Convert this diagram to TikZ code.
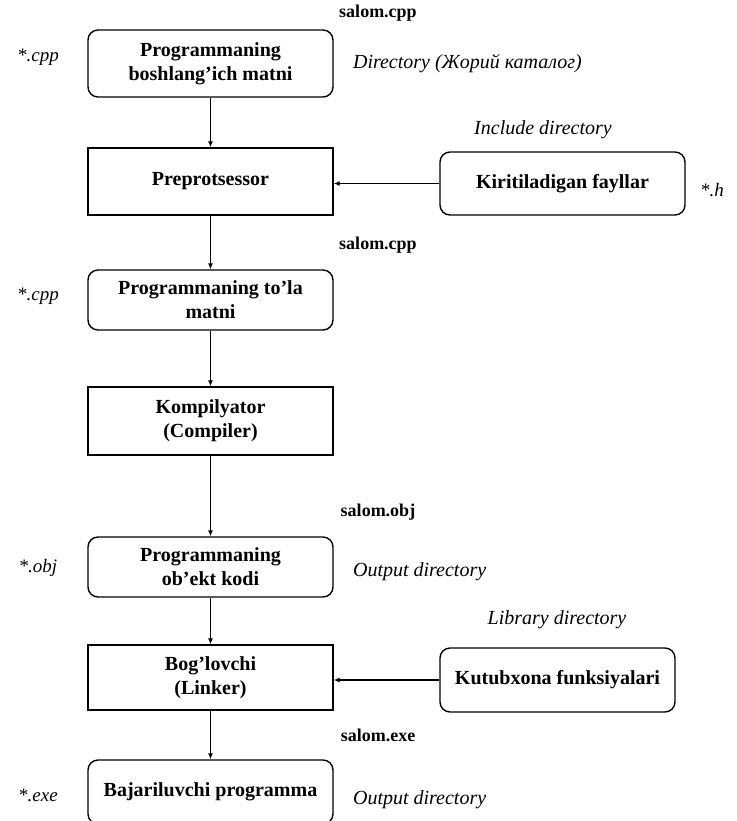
\documentclass[tikz,border=0pt]{standalone}
\usepackage{fontspec}
\setmainfont{Liberation Serif}
\usepackage{tikz}
\usetikzlibrary{positioning}
\usetikzlibrary{arrows.meta}
\usepackage{xcolor}

\tikzset{
	block/.style={draw=black, line width=0.7pt, minimum width=122.5pt, align=center, inner sep=2pt, font=\fontsize{10}{12}\selectfont\bfseries},
	roundblock/.style={block, rounded corners=5pt},
	fname/.style={font=\fontsize{9}{11}\selectfont\bfseries},
	dirlabel/.style={font=\fontsize{10}{12}\selectfont\itshape},
	extlabel/.style={font=\fontsize{9.5}{11}\selectfont\itshape},
	link/.style={draw=black, line width=0.7pt, -{Latex[length=3pt,width=2.5pt]}}
}

\begin{document}
\begin{tikzpicture}[x=0.5pt, y=-0.5pt]
	\useasboundingbox (0, 0) rectangle (737, 821);
	\node[roundblock, minimum height=33.5pt] (source) at (210.5, 63.5) {Programmaning\\boshlang'ich matni};
	\node[block, minimum height=33.5pt] (prep) at (210.5, 181.5) {Preprotsessor};
	\node[roundblock, minimum height=31.5pt] (headers) at (562.5, 183.5) {Kiritiladigan fayllar};
	\node[roundblock, minimum height=30pt] (full) at (210.5, 300) {Programmaning to'la\\matni};
	\node[block, minimum height=34pt] (compiler) at (210.5, 421) {Kompilyator\\(Compiler)};
	\node[roundblock, minimum height=30pt] (object) at (210.5, 567) {Programmaning\\ob'ekt kodi};
	\node[block, minimum height=32.5pt] (linker) at (210.5, 677.5) {Bog'lovchi\\(Linker)};
	\node[roundblock, minimum width=117.5pt, minimum height=32pt] (library) at (557.5, 680) {Kutubxona funksiyalari};
	\node[roundblock, minimum height=32pt] (program) at (210.5, 792) {Bajariluvchi programma};

	\node[fname] (srcname) at (378, 13) {salom.cpp};
	\node[fname] (fullname) at (378, 245) {salom.cpp};
	\node[fname] (objname) at (378, 512) {salom.obj};
	\node[fname] (exename) at (378, 735) {salom.exe};

	\node[extlabel] (srcext) at (38, 57) {*.cpp};
	\node[extlabel] (hext) at (712, 190) {*.h};
	\node[extlabel] (fullext) at (38, 296) {*.cpp};
	\node[extlabel] (objext) at (38, 568) {*.obj};
	\node[extlabel] (exeext) at (38, 795) {*.exe};

	\node[dirlabel, anchor=west] (srcdir) at (346, 64) {Directory (Жорий каталог)};
	\node[dirlabel] (incdir) at (543, 130) {Include directory};
	\node[dirlabel, anchor=west] (objdir) at (346, 572) {Output directory};
	\node[dirlabel] (libdir) at (557, 620) {Library directory};
	\node[dirlabel, anchor=west] (exedir) at (346, 800) {Output directory};

	\draw[link] (source) -- (prep);
	\draw[link] (prep) -- (full);
	\draw[link] (full) -- (compiler);
	\draw[link] (compiler) -- (object);
	\draw[link] (object) -- (linker);
	\draw[link] (linker) -- (program);
	\draw[link] (headers.west) -- (headers.west -| prep.east);
	\draw[link] (library.west) -- (library.west -| linker.east);
\end{tikzpicture}
\end{document}
